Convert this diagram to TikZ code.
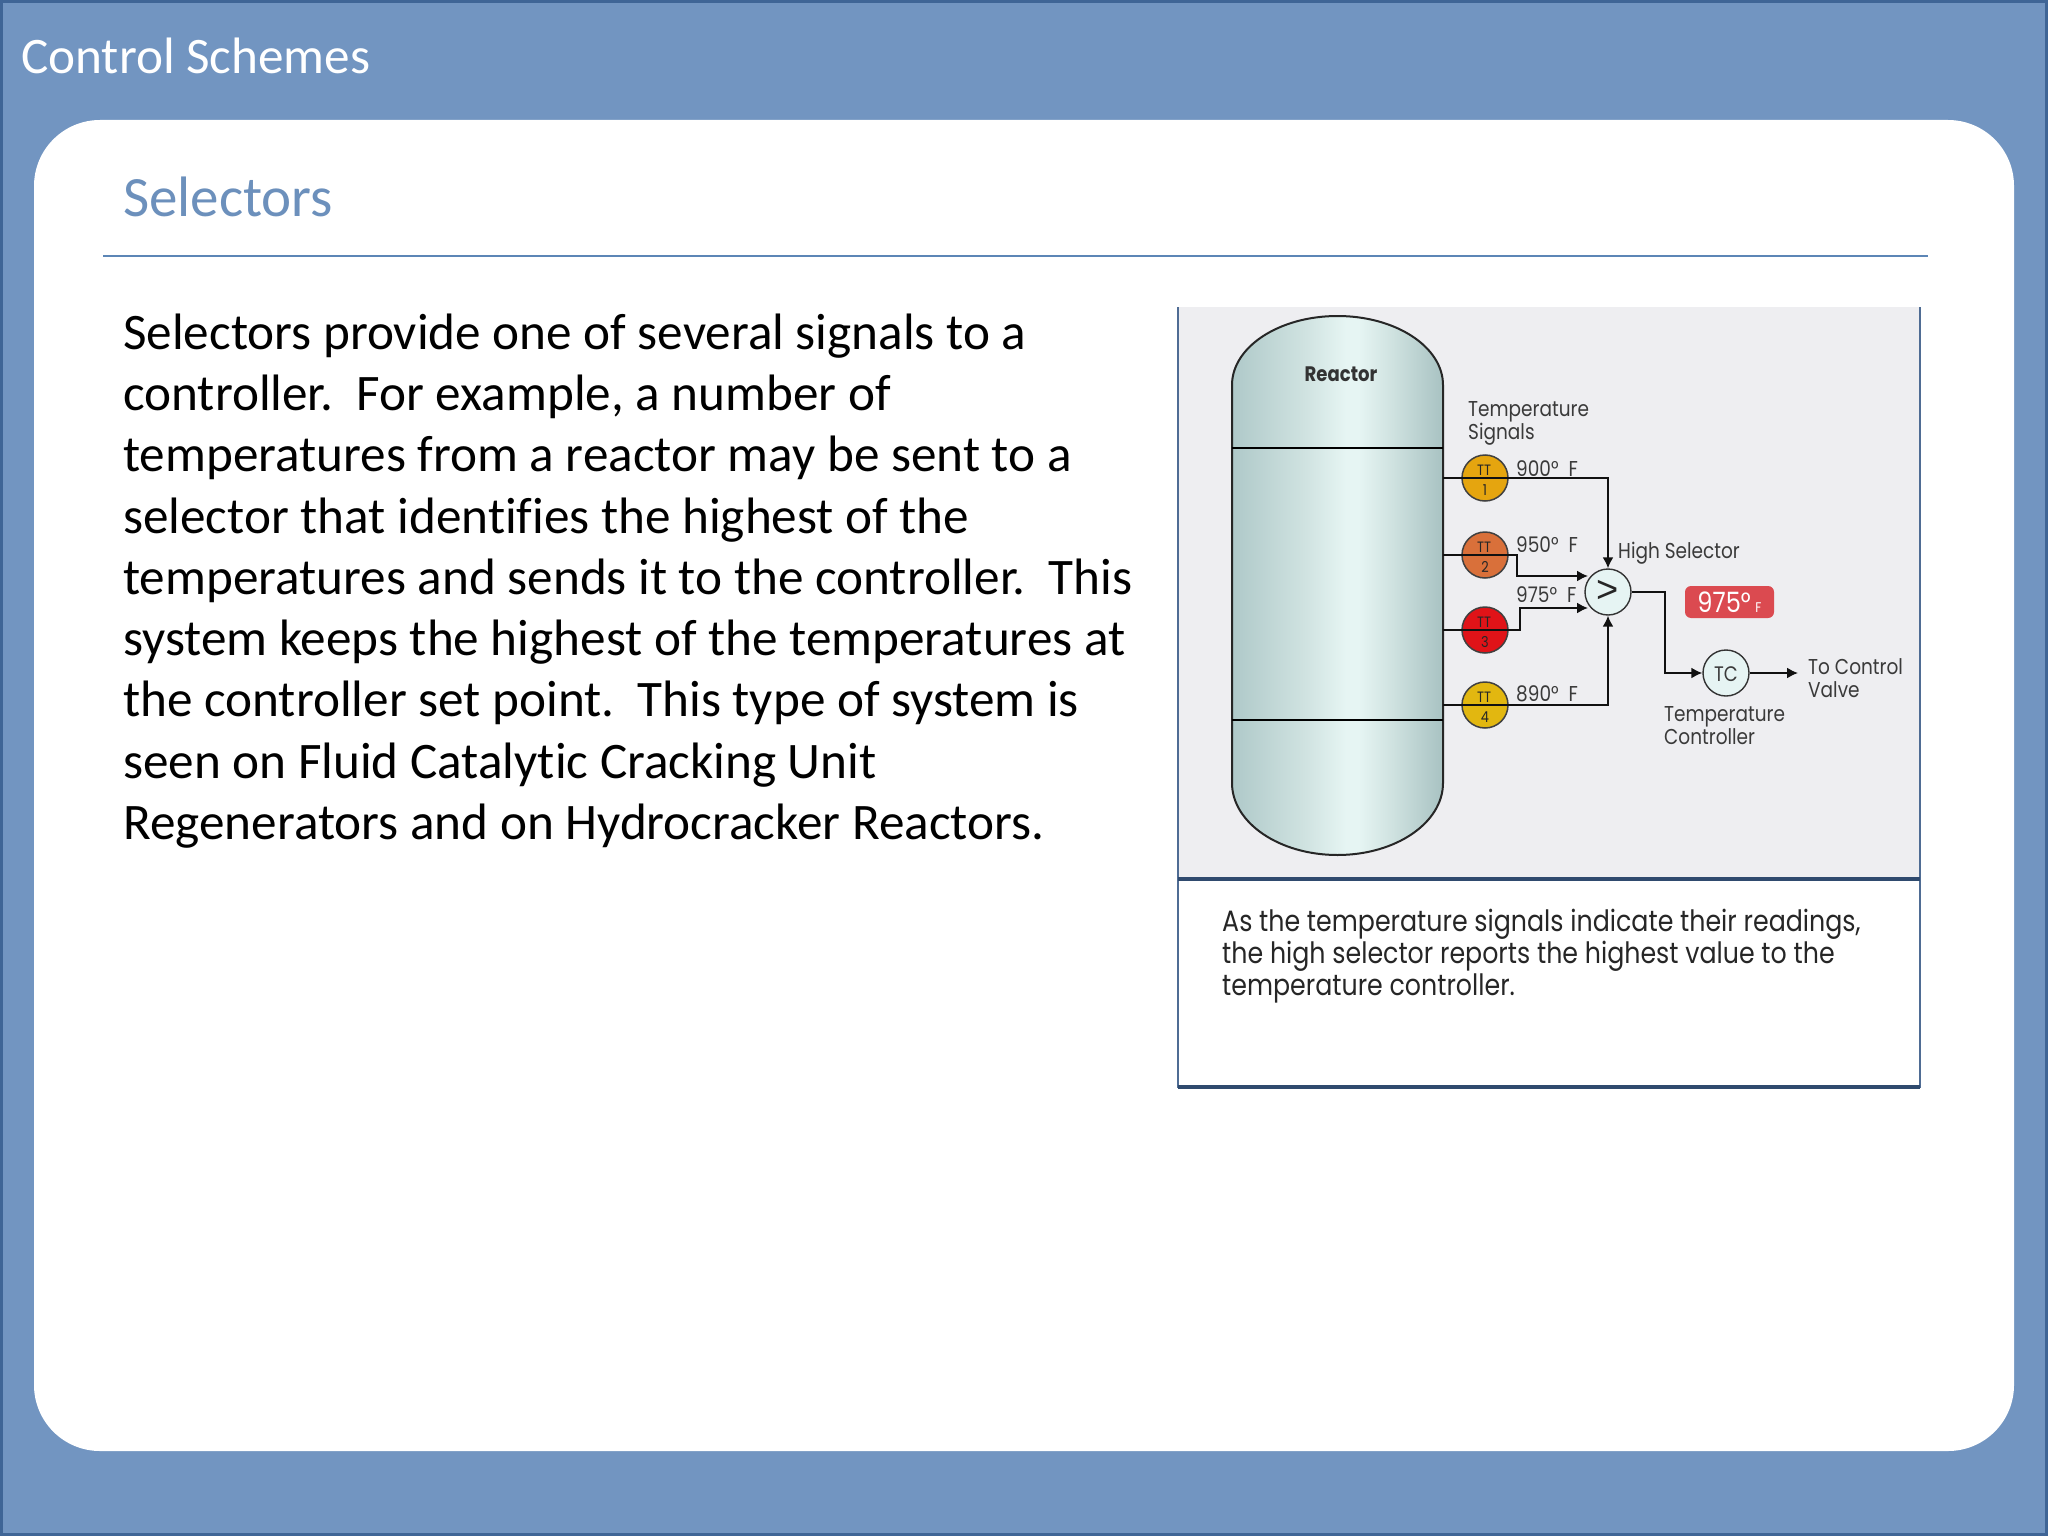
\documentclass[tikz,border=0pt]{standalone}
\usepackage{fontspec}
\setmainfont[RawFeature={-liga,-clig}]{Carlito}
\newfontfamily\diagfont[FakeStretch=0.86]{Poppins}
\newfontfamily\gtfont{Liberation Sans}
\usetikzlibrary{arrows.meta}
\definecolor{slideblue}{HTML}{7295C1}
\definecolor{frameblue}{HTML}{3F6596}
\definecolor{headblue}{HTML}{6C90BC}
\definecolor{rulemain}{HTML}{5C86B6}
\definecolor{panelgrey}{HTML}{EEEEF1}
\definecolor{paneledge}{HTML}{4F6C94}
\definecolor{paneldark}{HTML}{2F4A6E}
\definecolor{wire}{HTML}{111111}
\definecolor{labelgrey}{HTML}{3A3A3A}
\definecolor{instfill}{HTML}{E6F4F3}
\definecolor{ttone}{HTML}{E5A50F}
\definecolor{tttwo}{HTML}{D9703A}
\definecolor{ttthree}{HTML}{E01318}
\definecolor{ttfour}{HTML}{E2B710}
\definecolor{vesA}{HTML}{AFC9C9}
\definecolor{vesB}{HTML}{CFE2E0}
\definecolor{vesC}{HTML}{E6F5F3}
\definecolor{vesD}{HTML}{A8C2C2}
\definecolor{badgered}{HTML}{DB4A50}
\pgfdeclarehorizontalshading{vesselshade}{100bp}{color(0bp)=(vesA); color(25bp)=(vesA); color(42bp)=(vesB); color(52bp)=(vesC); color(55bp)=(vesC); color(63bp)=(vesB); color(75bp)=(vesD); color(100bp)=(vesD)}
\tikzset{
  x=1pt,y=-1pt,
  txt/.style={inner sep=0pt,anchor=base west,align=left},
  dlabel/.style={txt,font=\diagfont\fontsize{21.5}{23}\selectfont,text=labelgrey},
  sig/.style={line width=1.8pt,draw=wire},
  sigarrow/.style={sig,-{Latex[length=11pt,width=11pt]}},
  ttbubble/.style={circle,draw=black!75,line width=1.5pt,minimum size=46pt,inner sep=0pt},
  instr/.style={circle,draw=black!80,line width=1.4pt,fill=instfill,minimum size=46pt,inner sep=0pt},
  ttmark/.style={inner sep=0pt,font=\diagfont\fontsize{15}{15}\selectfont,text=black!85},
}
\begin{document}
\begin{tikzpicture}
\useasboundingbox (0,0) rectangle (2048,1536);
% slide
\fill[slideblue] (0,0) rectangle (2048,1536);
\draw[frameblue,line width=3pt] (1.5,1.5) rectangle (2046.5,1534.5);
\fill[white,rounded corners=66pt] (34,120) rectangle (2014,1451);
\node[txt,text=white,font=\fontsize{51.2}{58}\selectfont] (title) at (21,74) {Control Schemes};
\node[txt,text=headblue,font=\fontsize{57}{66}\selectfont] (head) at (123,216) {Selectors};
\draw[rulemain,line width=2pt] (103,256) -- (1928,256);
\node[txt,text=black,font=\fontsize{51.2}{61.3}\selectfont] (body) at (123,839.5) {Selectors provide one of several signals to a\\
controller.\ \ For example, a number of\\
temperatures from a reactor may be sent to a\\
selector that identifies the highest of the\\
temperatures and sends it to the controller.\ \ This\\
system keeps the highest of the temperatures at\\
the controller set point.\ \ This type of system is\\
seen on Fluid Catalytic Cracking Unit\\
Regenerators and on Hydrocracker Reactors.};
% picture panel
\fill[panelgrey] (1178,307) rectangle (1920,878);
\fill[white] (1178,878) rectangle (1920,1088);
\draw[paneledge,line width=2pt] (1178,307) -- (1178,1088);
\draw[paneledge,line width=2pt] (1920,307) -- (1920,1088);
\draw[paneldark,line width=4pt] (1178,879) -- (1920,879);
\draw[paneldark,line width=4pt] (1178,1087) -- (1920,1087);
% reactor
\path[shading=vesselshade,draw=black!85,line width=2pt]
  (1232,385) arc[start angle=180,end angle=0,x radius=105.5pt,y radius=69pt]
  -- (1443,783) arc[start angle=0,end angle=-180,x radius=105.5pt,y radius=72pt] -- cycle;
\draw[black,line width=2pt] (1232,448) -- (1443,448);
\draw[black,line width=2pt] (1232,720) -- (1443,720);
\node[inner sep=0pt,font=\diagfont\bfseries\fontsize{21}{24}\selectfont,text=black!80] (reactor) at (1341,374) {Reactor};
% anchors on the reactor wall
\coordinate (w1) at (1443,478);
\coordinate (w2) at (1443,555);
\coordinate (w3) at (1443,630);
\coordinate (w4) at (1443,705);
% instruments
\node[ttbubble,fill=ttone] (tt1) at (1485,478) {};
\node[ttbubble,fill=tttwo] (tt2) at (1485,555) {};
\node[ttbubble,fill=ttthree] (tt3) at (1485,630) {};
\node[ttbubble,fill=ttfour] (tt4) at (1485,705) {};
\foreach \n/\y/\d in {1/478/1,2/555/2,3/630/3,4/705/4}{
  \node[ttmark] (tta\n) at (1484,\y-8) {TT};
  \node[ttmark] (ttb\n) at (1485,\y+12) {\d};
}
\node[instr] (sel) at (1608,592) {};
\node[inner sep=0pt,font=\gtfont\fontsize{38}{38}\selectfont,text=black!85] (gt) at (1608,591) {>};
\node[instr] (tc) at (1726,673) {};
\node[inner sep=0pt,font=\diagfont\fontsize{21}{21}\selectfont,text=labelgrey] (tctext) at (1726,674) {TC};
% bends
\coordinate (b2a) at (1517,555);
\coordinate (b2b) at (1517,576);
\coordinate (e2) at (1588,576);
\coordinate (b3a) at (1520,630);
\coordinate (b3b) at (1520,608);
\coordinate (e3) at (1588,608);
\coordinate (b5) at (1665,592);
\coordinate (e6) at (1798,673);
% signal lines
\draw[sigarrow] (w1) -| (sel.north);
\draw[sigarrow] (w4) -| (sel.south);
\draw[sigarrow] (w2) -- (b2a) -- (b2b) -- (e2);
\draw[sigarrow] (w3) -- (b3a) -- (b3b) -- (e3);
\draw[sigarrow] (sel.east) -- (b5) |- (tc.west);
\draw[sigarrow] (tc.east) -- (e6);
% labels
\node[dlabel] (tsig) at (1468,439) {Temperature\\Signals};
\node[dlabel] (v1) at (1516,476) {900°\ \ F};
\node[dlabel] (v2) at (1516,552) {950°\ \ F};
\node[dlabel] (v3) at (1516,602) {975°\ \ F};
\node[dlabel] (v4) at (1516,701) {890°\ \ F};
\node[dlabel] (hs) at (1618,558) {High Selector};
\node[dlabel] (tcon) at (1664,744) {Temperature\\Controller};
\node[dlabel] (tov) at (1808,697) {To Control\\Valve};
\node[fill=badgered,rounded corners=6pt,minimum width=89pt,minimum height=32pt,inner sep=0pt,text=white,font=\diagfont\fontsize{28}{28}\selectfont] (badge) at (1729.5,602) {975°\,{\fontsize{14}{14}\selectfont F}};
\node[txt,text=black!85,font=\diagfont\fontsize{29.4}{32}\selectfont] (cap) at (1222,995) {As the temperature signals indicate their readings,\\
the high selector reports the highest value to the\\
temperature controller.};
\end{tikzpicture}
\end{document}
